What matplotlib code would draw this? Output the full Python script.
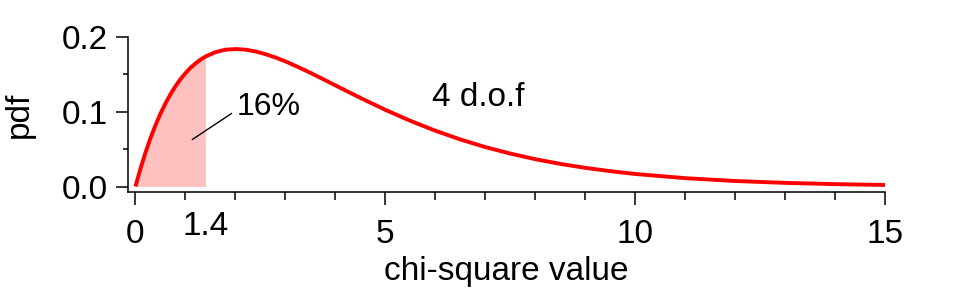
import numpy as np
import matplotlib
matplotlib.use('Agg')
import matplotlib.pyplot as plt

plt.rcParams['font.family'] = ['Liberation Sans', 'DejaVu Sans']

################################################################################
### data (chi-square pdf, 4 d.o.f)
chiValues = [0, 0.1, 0.2, 0.3, 0.4, 0.5, 0.6, 0.7, 0.8, 0.9, 1.0, 1.1, 1.2,
             1.3, 1.4, 1.6, 1.8, 2.0, 2.2, 2.4, 2.6, 2.8, 3.0, 3.25, 3.5,
             3.75, 4.0, 4.5, 5.0, 5.5, 6.0, 6.5, 7.0, 7.5, 8.0, 8.5, 9.0,
             9.5, 10.0, 11.0, 12.0, 13.0, 14.0, 15.0]
pdfValues = [0.0, 0.0238, 0.0452, 0.0646, 0.0819, 0.0974, 0.1111, 0.1233,
             0.1341, 0.1435, 0.1516, 0.1587, 0.1646, 0.1697, 0.1738, 0.1797,
             0.1830, 0.1839, 0.1831, 0.1807, 0.1771, 0.1726, 0.1674, 0.1600,
             0.1521, 0.1438, 0.1353, 0.1186, 0.1026, 0.0879, 0.0747, 0.0630,
             0.0528, 0.0441, 0.0366, 0.0303, 0.0250, 0.0206, 0.0168, 0.0112,
             0.0074, 0.0049, 0.0032, 0.0021]
cutValue = 1.4
areaLabel = '16%'
dofLabel = '4 d.o.f'
xTicks = [0, 5, 10, 15]
yTicks = [0.0, 0.1, 0.2]

chiValues = np.array(chiValues)
pdfValues = np.array(pdfValues)

################################################################################
### plot
fig = plt.figure(figsize=(9.65, 2.92), dpi=100)
ax = fig.add_axes([0.1326, 0.3425, 0.7845, 0.5308])

fillMask = chiValues <= cutValue
ax.fill_between(chiValues[fillMask], 0, pdfValues[fillMask],
                color='#ffc0c0', linewidth=0, zorder=1)
ax.plot(chiValues, pdfValues, color='#ff0000', linewidth=2.8, zorder=2,
        solid_capstyle='butt')

ax.set_xlim(-0.15, 15)
ax.set_ylim(-0.0073, 0.2)

for side in ['top', 'right']:
    ax.spines[side].set_visible(False)
for side in ['left', 'bottom']:
    ax.spines[side].set_linewidth(1.1)

ax.set_xticks(xTicks)
ax.set_xticklabels([str(t) for t in xTicks])
ax.set_xticks(np.arange(0, 16, 1), minor=True)
ax.set_yticks(yTicks)
ax.set_yticklabels(['%.1f' % t for t in yTicks])
ax.set_yticks([0.05, 0.15], minor=True)

ax.tick_params(axis='x', which='major', direction='out', length=9.5,
               width=1.1, labelsize=24, pad=10)
ax.tick_params(axis='x', which='minor', direction='out', length=5.8,
               width=1.1)
ax.tick_params(axis='y', which='major', direction='out', length=8.5,
               width=1.1, labelsize=24, pad=6)
ax.tick_params(axis='y', which='minor', direction='out', length=3.6,
               width=1.1)

ax.set_xlabel('chi-square value', fontsize=24, labelpad=4)
ax.set_ylabel('pdf', fontsize=24, labelpad=19)

# extra label for the cut value
ax.text(cutValue, -0.054, '1.4', fontsize=24, ha='center', va='center',
        clip_on=False)

# area annotation
ax.plot([1.14, 1.92], [0.063, 0.0976], color='black', linewidth=1.0)
ax.text(2.03, 0.107, areaLabel, fontsize=23, ha='left', va='center')

ax.text(5.93, 0.119, dofLabel, fontsize=24, ha='left', va='center')

plt.savefig('out.png', dpi=100)
